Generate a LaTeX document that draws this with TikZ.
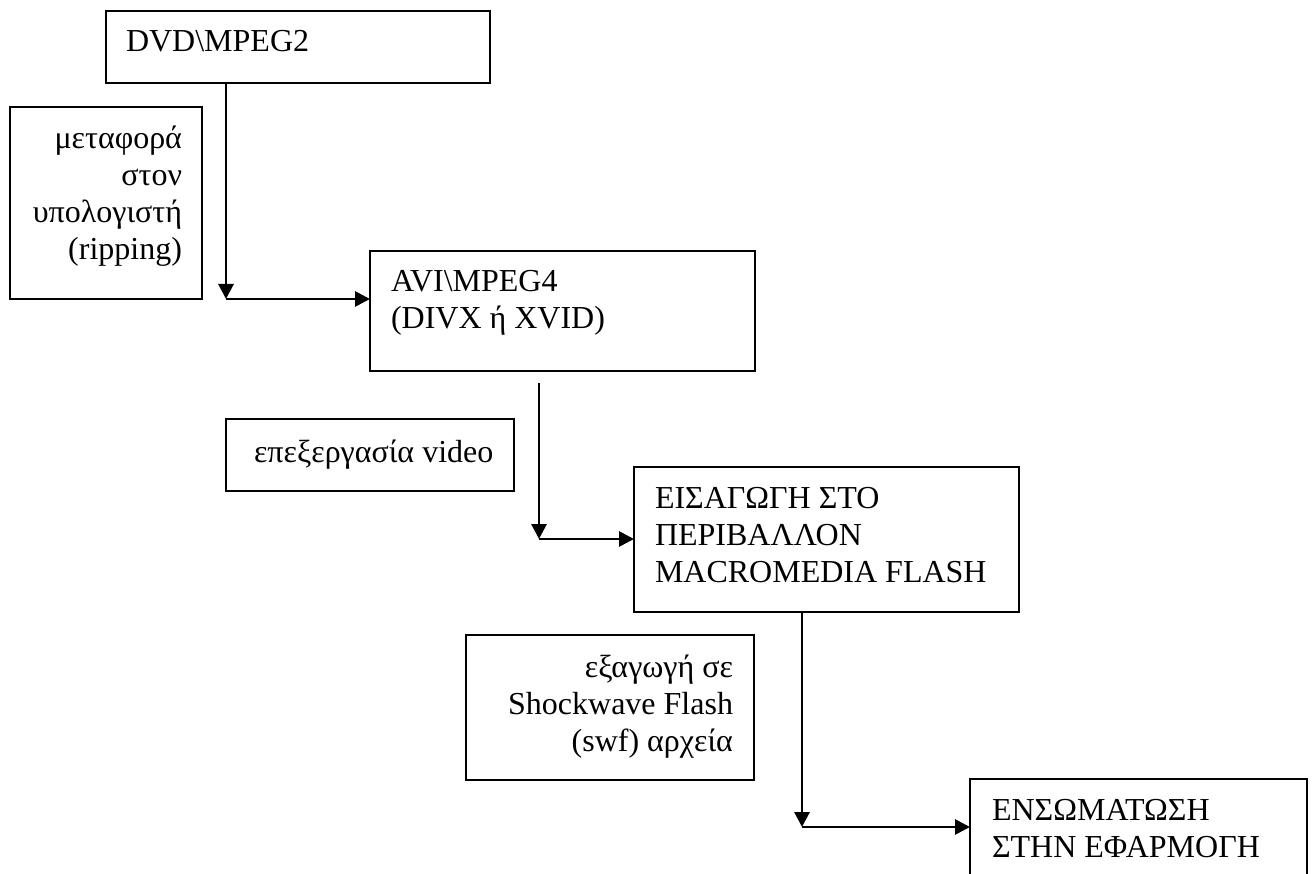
\documentclass[tikz,border=0pt]{standalone}
\usepackage{fontspec}
\setmainfont{Liberation Serif}
\usetikzlibrary{arrows.meta,calc}
\begin{document}
\begin{tikzpicture}[x=1pt,y=-1pt,
  box/.style={draw=black, line width=2pt, rectangle, inner sep=0pt, outer sep=0pt, anchor=north west},
  txt/.style={inner sep=0pt, outer sep=0pt, text=black, font=\fontsize{32}{37}\selectfont},
  conn/.style={draw=black, line width=2.8pt, -{Triangle[length=15pt,width=15pt]}}]
\useasboundingbox (0,0) rectangle (1312,874);
\fill[white] (0,0) rectangle (1312,874);
\clip (0,0) rectangle (1312,874);
% boxes
\node[box, minimum width=384pt, minimum height=72pt] (b1) at (106,11) {};
\node[box, minimum width=192pt, minimum height=192pt] (l1) at (10,107) {};
\node[box, minimum width=385pt, minimum height=120pt] (b2) at (370,251) {};
\node[box, minimum width=288pt, minimum height=72pt] (l2) at (226,419) {};
\node[box, minimum width=385pt, minimum height=145pt] (b3) at (634,467) {};
\node[box, minimum width=288pt, minimum height=145pt] (l3) at (466,635) {};
\node[box, minimum width=337pt, minimum height=130pt] (b4) at (970,779) {};
% texts
\node[txt, anchor=base west] (t1) at (126,52) {DVD\textbackslash MPEG2};
\node[txt, anchor=base east] (tl1) at (182,149) {\begin{tabular}[t]{@{}r@{}}μεταφορά\\στον\\υπολογιστή\\(ripping)\end{tabular}};
\node[txt, anchor=base west] (t2) at (391,292) {\begin{tabular}[t]{@{}l@{}}AVI\textbackslash MPEG4\\(DIVX ή XVID)\end{tabular}};
\node[txt, anchor=base west] (tl2) at (254,462) {επεξεργασία video};
\node[txt, anchor=base west] (t3) at (655,508) {\begin{tabular}[t]{@{}l@{}}ΕΙΣΑΓΩΓΗ ΣΤΟ\\ΠΕΡΙΒΑΛΛΟΝ\\MACROMEDIA FLASH\end{tabular}};
\node[txt, anchor=base east] (tl3) at (733,677) {\begin{tabular}[t]{@{}r@{}}εξαγωγή σε\\Shockwave Flash\\(swf) αρχεία\end{tabular}};
\node[txt, anchor=base west] (t4) at (992,820) {\begin{tabular}[t]{@{}l@{}}ΕΝΣΩΜΑΤΩΣΗ\\ΣΤΗΝ ΕΦΑΡΜΟΓΗ\end{tabular}};
% connectors
\coordinate (c1) at (226,299);
\draw[conn] (c1 |- b1.south) -- (c1);
\draw[conn] (c1) -- (c1 -| b2.west);
\coordinate (c2) at (539,539);
\draw[conn] ($(c2 |- b2.south)+(0,12)$) -- (c2);
\draw[conn] (c2) -- (c2 -| b3.west);
\coordinate (c3) at (802,827);
\draw[conn] (c3 |- b3.south) -- (c3);
\draw[conn] (c3) -- (c3 -| b4.west);
\end{tikzpicture}
\end{document}
